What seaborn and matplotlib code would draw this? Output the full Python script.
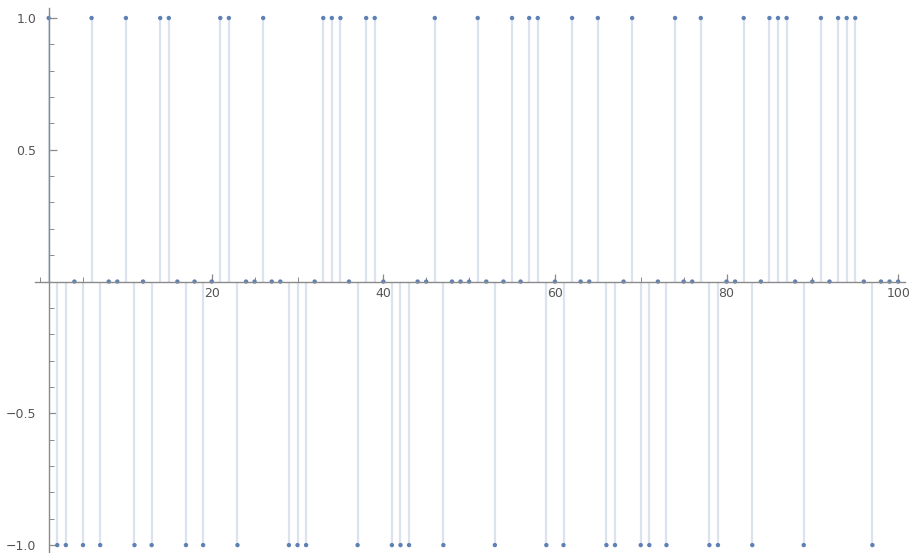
import matplotlib
matplotlib.use("Agg")
import matplotlib.pyplot as plt
from matplotlib.ticker import MultipleLocator, FixedLocator
import seaborn as sns
import pandas as pd

# Values (n = 1..100)
n_values = list(range(1, 101))
values = [
    1, -1, -1, 0, -1, 1, -1, 0, 0, 1,
    -1, 0, -1, 1, 1, 0, -1, 0, -1, 0,
    1, 1, -1, 0, 0, 1, 0, 0, -1, -1,
    -1, 0, 1, 1, 1, 0, -1, 1, 1, 0,
    -1, -1, -1, 0, 0, 1, -1, 0, 0, 0,
    1, 0, -1, 0, 1, 0, 1, 1, -1, 0,
    -1, 1, 0, 0, 1, -1, -1, 0, 1, -1,
    -1, 0, -1, 1, 0, 0, 1, -1, -1, 0,
    0, 1, -1, 0, 1, 1, 1, 0, -1, 0,
    1, 0, 1, 1, 1, 0, -1, 0, 0, 0,
]
x_ticks = [20, 40, 60, 80, 100]
y_ticks = [-1.0, -0.5, 0.5, 1.0]
y_tick_labels = ["\u22121.0", "\u22120.5", "0.5", "1.0"]

df = pd.DataFrame({"n": n_values, "v": values})

sns.set_theme(style="white")
plt.rcParams["font.family"] = ["DejaVu Sans"]

W, H = 910, 553
fig = plt.figure(figsize=(W / 100, H / 100), dpi=100)
ax = fig.add_axes([35 / W, 0, 870 / W, 545 / H])

point_color = "#5E81B5"
stem_color = "#dbe3ef"

ax.vlines(df["n"], 0, df["v"], color=stem_color, linewidth=1.6, zorder=1)
sns.scatterplot(data=df, x="n", y="v", ax=ax, color=point_color, s=10,
                edgecolor="none", linewidth=0, zorder=3, legend=False)

ax.set_xlim(-0.594, 100.8)
ax.set_ylim(-1.03, 1.038)

for side in ["top", "right"]:
    ax.spines[side].set_visible(False)
ax.spines["left"].set_position(("data", 1))
ax.spines["bottom"].set_position(("data", 0))
for side in ["left", "bottom"]:
    ax.spines[side].set_color("#8a8a8a")
    ax.spines[side].set_linewidth(1.0)
    ax.spines[side].set_zorder(4)

ax.xaxis.set_major_locator(FixedLocator(x_ticks))
ax.xaxis.set_minor_locator(MultipleLocator(5))
ax.yaxis.set_major_locator(FixedLocator(y_ticks))
ax.set_yticklabels(y_tick_labels)
ax.yaxis.set_minor_locator(MultipleLocator(0.1))

ax.tick_params(axis="both", which="both", direction="in", color="#8a8a8a",
               labelcolor="#555555", labelsize=9, bottom=True, left=True,
               top=False, right=False)
ax.tick_params(axis="both", which="major", length=6, width=0.9)
ax.tick_params(axis="both", which="minor", length=3.5, width=0.7)
ax.tick_params(axis="x", which="major", pad=4)
ax.tick_params(axis="y", which="major", pad=9)
ax.set_xlabel("")
ax.set_ylabel("")
ax.grid(False)
ax.patch.set_alpha(0)

fig.savefig("out.png", dpi=100)
